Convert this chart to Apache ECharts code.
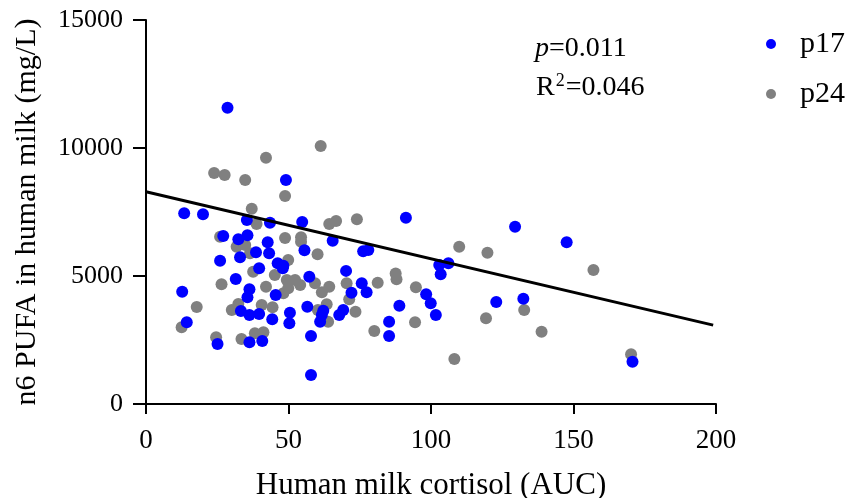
<!DOCTYPE html>
<html>
<head>
<meta charset="utf-8">
<script src="https://cdn.jsdelivr.net/npm/echarts@6/dist/echarts.min.js"></script>
<style>html,body{margin:0;padding:0;background:#fff}#c{width:864px;height:498px}</style>
</head>
<body>
<div id="c"></div>
<script>
var seriesNames = ['p17', 'p24'];
var p17 = [
  [28.6,11574],[49.1,8750],[13.4,7448],[20.0,7409],[35.4,7187],[43.5,7083],[27.1,6562],[32.4,6432],
  [35.6,6588],[42.7,6315],[38.6,5924],[43.2,5885],[33.0,5729],[26.0,5599],[46.2,5495],[48.0,5300],
  [39.7,5300],[31.5,4883],[12.7,4388],[36.3,4480],[35.6,4167],[45.5,4258],[33.3,3633],[36.3,3477],
  [39.7,3516],[44.3,3307],[50.5,3560],[50.3,3151],[14.3,3190],[25.1,2344],[36.3,2409],[40.8,2461],
  [54.8,7109],[91.2,7279],[65.5,6380],[55.6,6003],[76.2,5964],[78.0,6016],[48.2,5404],[70.2,5200],
  [57.3,4974],[72.1,4349],[75.7,4714],[77.4,4362],[98.3,4290],[88.9,3841],[56.6,3802],[62.2,3646],
  [61.7,3477],[61.1,3216],[67.8,3477],[69.2,3672],[85.3,3216],[85.3,2656],[57.9,2656],[57.9,1133],
  [129.5,6927],[147.6,6315],[102.9,5430],[106.1,5495],[103.4,5065],[99.9,3932],[101.7,3477],
  [122.9,3980],[132.4,4115],[170.7,1654]
];
var p24 = [
  [42.1,9621],[23.9,9023],[27.6,8945],[34.8,8750],[48.8,8125],[37.1,7630],[38.8,7031],[48.8,6480],
  [26.0,6536],[31.8,6146],[34.8,6211],[36.5,5885],[49.9,5625],[37.6,5169],[45.2,5039],[49.4,4844],
  [26.5,4674],[42.1,4583],[17.8,3790],[30.1,3672],[32.4,3906],[40.6,3867],[44.4,3776],[12.5,2995],
  [24.6,2604],[33.5,2539],[38.2,2760],[41.2,2799],[61.3,10078],[64.3,7031],[66.7,7148],[74.0,7214],
  [54.4,6510],[54.4,6340],[60.2,5847],[87.6,5100],[52.3,4844],[49.9,4518],[48.2,4323],[54.1,4648],
  [59.3,4714],[64.3,4583],[61.7,4362],[70.4,4714],[81.3,4740],[87.9,4870],[94.7,4557],[71.3,4090],
  [63.4,3893],[60.3,3672],[63.9,3216],[73.5,3607],[80.1,2852],[94.4,3190],[109.9,6146],[119.8,5911],
  [119.3,3346],[132.7,3672],[138.8,2826],[108.2,1758],[157.0,5234],[170.2,1940]
];
var fitLine = [[0, 8290], [199, 3080]];
var xTicks = [0, 50, 100, 150, 200];
var yTicks = [0, 5000, 10000, 15000];
var statP = '0.011';
var statR2 = '0.046';

var FONT = '"Liberation Serif", "Times New Roman", serif';
var chart = echarts.init(document.getElementById('c'), null, {renderer: 'canvas'});
chart.setOption({
  backgroundColor: '#fff',
  animation: false,
  grid: {left: 146, right: 148, top: 20, bottom: 94, containLabel: false, outerBoundsMode: 'none'},
  legend: {
    data: seriesNames,
    orient: 'vertical',
    left: 761, top: 24,
    icon: 'circle',
    itemWidth: 10, itemHeight: 10, itemGap: 20,
    textStyle: {fontFamily: FONT, fontSize: 30, color: '#000', lineHeight: 30, padding: [0, 0, 0, 19]}
  },
  xAxis: {
    type: 'value', min: xTicks[0], max: xTicks[xTicks.length - 1], interval: 50,
    name: 'Human milk cortisol (AUC)', nameLocation: 'middle', nameGap: 66,
    nameTextStyle: {fontFamily: FONT, fontSize: 31, color: '#000'},
    axisLine: {show: true, onZero: false, lineStyle: {color: '#000', width: 2}},
    axisTick: {show: true, length: 10, lineStyle: {color: '#000', width: 2}},
    axisLabel: {fontFamily: FONT, fontSize: 27, color: '#000', margin: 23},
    splitLine: {show: false}
  },
  yAxis: {
    type: 'value', min: yTicks[0], max: yTicks[yTicks.length - 1], interval: 5000,
    name: 'n6 PUFA in human milk (mg/L)', nameLocation: 'middle', nameGap: 104,
    nameTextStyle: {fontFamily: FONT, fontSize: 30, color: '#000'},
    axisLine: {show: true, onZero: false, lineStyle: {color: '#000', width: 2}},
    axisTick: {show: true, length: 13, lineStyle: {color: '#000', width: 2}},
    axisLabel: {fontFamily: FONT, fontSize: 26, color: '#000', margin: 23,
      formatter: function (v) { return String(v); }},
    splitLine: {show: false}
  },
  graphic: [
    {type: 'text', left: 535, top: 35, style: {
      rich: {i: {fontFamily: FONT, fontStyle: 'italic', fontSize: 28, fill: '#000'},
             n: {fontFamily: FONT, fontSize: 28, fill: '#000'}},
      text: '{i|p}{n|=' + statP + '}'}},
    {type: 'text', left: 536, top: 72, style: {
      rich: {n: {fontFamily: FONT, fontSize: 28, fill: '#000', lineHeight: 30, verticalAlign: 'bottom'},
             s: {fontFamily: FONT, fontSize: 18, fill: '#000', lineHeight: 30, verticalAlign: 'top', padding: [0, 1, 0, 1]}},
      text: '{n|R}{s|2}{n|=' + statR2 + '}'}}
  ],
  series: [
    {name: 'p24', type: 'scatter', data: p24, symbolSize: 12, itemStyle: {color: '#808080', opacity: 1}, z: 2},
    {name: 'p17', type: 'scatter', data: p17, symbolSize: 12, itemStyle: {color: '#0000FF', opacity: 1}, z: 3},
    {name: 'fit', type: 'line', data: fitLine, symbol: 'none', lineStyle: {color: '#000', width: 3}, z: 4, silent: true}
  ]
});
</script>
</body>
</html>
